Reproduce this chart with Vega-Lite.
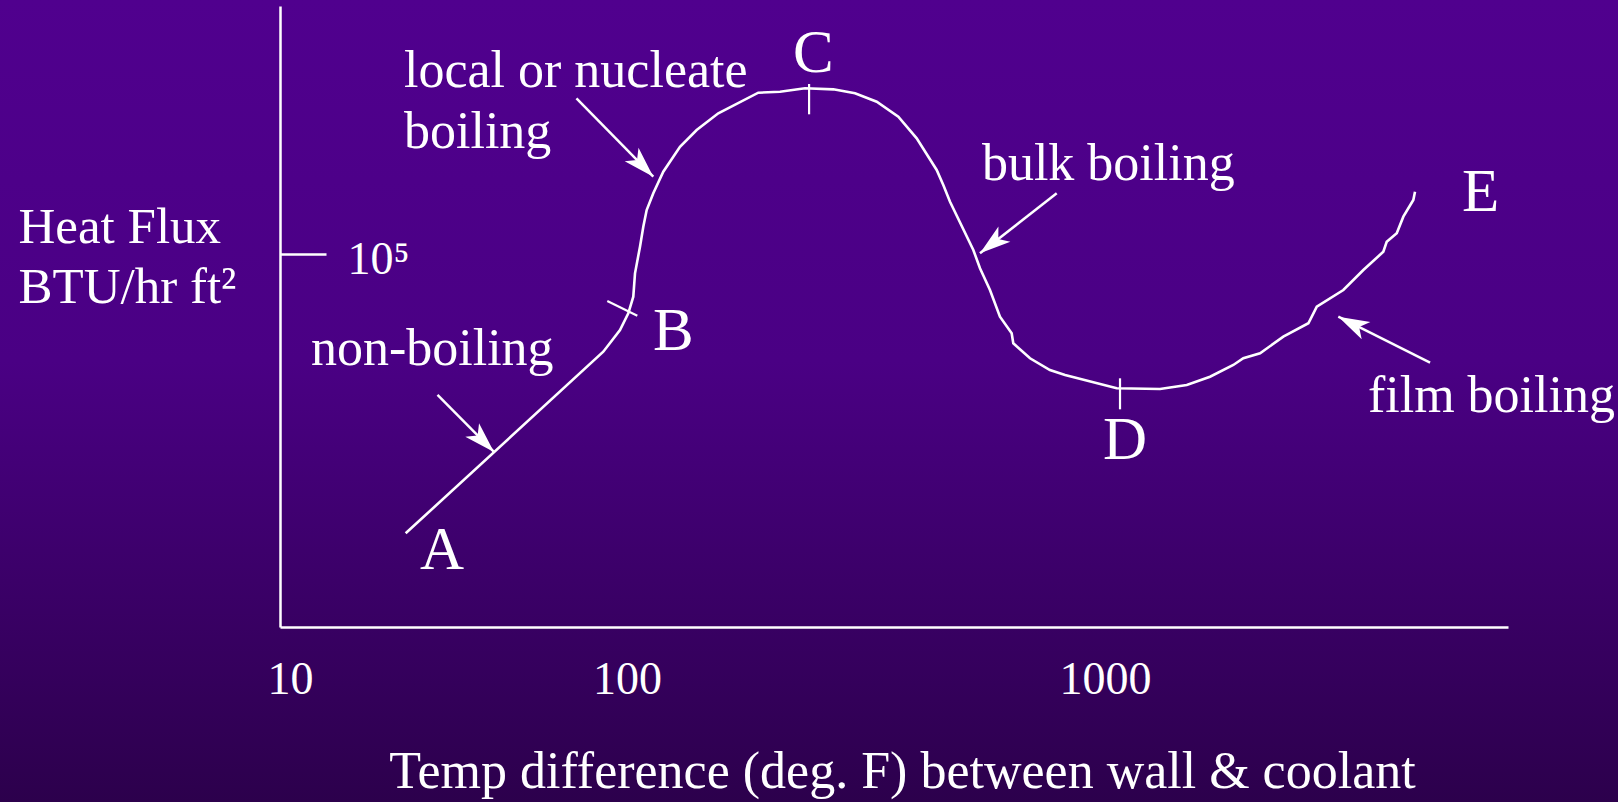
{
  "$schema": "https://vega.github.io/schema/vega-lite/v6.json",
  "width": 1618,
  "height": 802,
  "autosize": "none",
  "padding": 0,
  "background": "#3f0070",
  "config": {
    "view": {"stroke": null},
    "font": "Liberation Serif, Times New Roman, serif",
    "axis": {
      "domainColor": "white",
      "domainWidth": 2.5,
      "labelColor": "white",
      "titleColor": "white",
      "labelFont": "Liberation Serif, Times New Roman, serif",
      "titleFont": "Liberation Serif, Times New Roman, serif",
      "titleFontWeight": "normal",
      "grid": false
    }
  },
  "datasets": {
    "bg": [{"part": "background"}],
    "curve": [
      {"t": 22.04, "q": 7555},
      {"t": 85.04, "q": 40510},
      {"t": 95.33, "q": 49530},
      {"t": 100.63, "q": 57780},
      {"t": 103.08, "q": 67380},
      {"t": 103.93, "q": 83640},
      {"t": 106.46, "q": 106980},
      {"t": 108.17, "q": 128700},
      {"t": 109.94, "q": 150200},
      {"t": 113.5, "q": 175300},
      {"t": 119.1, "q": 214100},
      {"t": 129.08, "q": 269700},
      {"t": 139.88, "q": 314800},
      {"t": 155.24, "q": 367400},
      {"t": 188.23, "q": 444400},
      {"t": 208.97, "q": 448500},
      {"t": 235.72, "q": 462900},
      {"t": 270.23, "q": 458500},
      {"t": 299.92, "q": 441900},
      {"t": 333.0, "q": 408900},
      {"t": 369.5, "q": 355900},
      {"t": 403.7, "q": 291500},
      {"t": 444.5, "q": 217500},
      {"t": 458.9, "q": 189300},
      {"t": 474.0, "q": 162200},
      {"t": 530.3, "q": 103800},
      {"t": 547.6, "q": 87610},
      {"t": 574.6, "q": 71700},
      {"t": 602.9, "q": 56000},
      {"t": 637.9, "q": 48040},
      {"t": 642.9, "q": 43800},
      {"t": 696.8, "q": 38120},
      {"t": 767.1, "q": 34210},
      {"t": 824.9, "q": 32670},
      {"t": 1058.1, "q": 28880},
      {"t": 1303.4, "q": 28700},
      {"t": 1482.6, "q": 29780},
      {"t": 1658.5, "q": 32150},
      {"t": 1855.4, "q": 35830},
      {"t": 1947.0, "q": 38120},
      {"t": 2110.5, "q": 39920},
      {"t": 2360.6, "q": 46550},
      {"t": 2663.5, "q": 52700},
      {"t": 2773.6, "q": 61430},
      {"t": 3151.9, "q": 71700},
      {"t": 3470.6, "q": 86230},
      {"t": 3821.3, "q": 102100},
      {"t": 3884.3, "q": 112000},
      {"t": 4076.7, "q": 121100},
      {"t": 4208.3, "q": 141200},
      {"t": 4415.7, "q": 164800},
      {"t": 4451.4, "q": 177900}
    ],
    "marks": [
      {"point": "B", "t": 87.4, "q": 64740, "t2": 105.09, "q2": 56520},
      {"point": "C", "t": 240.4, "q": 481600, "t2": 240.4, "q2": 363900},
      {"point": "D", "t": 1075, "q": 31680, "t2": 1075, "q2": 23780}
    ],
    "arrows": [
      {"regime": "non-boiling", "t": 27.4, "q": 27150, "t2": 40.3, "q2": 16030},
      {"regime": "local or nucleate boiling", "t": 70.8, "q": 422000, "t2": 113.5, "q2": 204400},
      {"regime": "bulk boiling", "t": 792.5, "q": 175300, "t2": 547.6, "q2": 100650},
      {"regime": "film boiling", "t": 4786, "q": 36600, "t2": 3077, "q2": 56000}
    ],
    "phrases": [
      {"label": "local or nucleate", "t": 21.79, "q": 468500},
      {"label": "boiling", "t": 21.79, "q": 266500},
      {"label": "bulk boiling", "t": 552.7, "q": 198300},
      {"label": "non-boiling", "t": 11.54, "q": 35830},
      {"label": "film boiling", "t": 3549, "q": 23200}
    ],
    "letters": [
      {"label": "A", "t": 24.31, "q": 5430},
      {"label": "B", "t": 113.35, "q": 41170},
      {"label": "C", "t": 222.5, "q": 538200},
      {"label": "D", "t": 990.4, "q": 14980},
      {"label": "E", "t": 5583, "q": 149200}
    ]
  },
  "encoding": {
    "x": {
      "field": "t",
      "type": "quantitative",
      "scale": {"type": "log", "domain": [9.34, 100, 1000, 6967], "range": [280, 627, 1105, 1508], "nice": false},
      "axis": {
        "zindex": 2,
        "values": [10, 100, 1000],
        "format": "d",
        "ticks": false,
        "tickSize": 0,
        "labelFont": "Liberation Serif, Times New Roman, serif",
        "labelFontSize": 46,
        "labelBaseline": "alphabetic",
        "labelPadding": 66,
        "labelFlush": false,
        "labelOverlap": false,
        "offset": -175,
        "title": "Temp difference (deg. F) between wall & coolant",
        "titleFont": "Liberation Serif, Times New Roman, serif",
        "titleFontSize": 52,
        "titleFontWeight": "normal",
        "titleAnchor": null,
        "titleAlign": "center",
        "titleBaseline": "alphabetic",
        "titleX": 902,
        "titleY": 160
      }
    },
    "y": {
      "field": "q",
      "type": "quantitative",
      "scale": {"type": "log", "domain": [3177, 990800], "range": [627, 6], "nice": false},
      "axis": {
        "zindex": 2,
        "values": [100000],
        "labelExpr": "'10⁵'",
        "ticks": true,
        "tickSize": -46,
        "tickWidth": 2.5,
        "tickColor": "white",
        "labelFont": "Liberation Serif, Times New Roman, serif",
        "labelAlign": "left",
        "labelBaseline": "alphabetic",
        "labelPadding": -21,
        "labelOffset": 19,
        "labelFontSize": 46,
        "labelFlush": false,
        "labelOverlap": false,
        "offset": -280,
        "title": ["Heat Flux", "BTU/hr ft²"],
        "titleFont": "Liberation Serif, Times New Roman, serif",
        "titleFontSize": 51,
        "titleFontWeight": "normal",
        "titleAngle": 0,
        "titleAnchor": null,
        "titleAlign": "left",
        "titleBaseline": "alphabetic",
        "titleX": -262,
        "titleY": 242,
        "titleLineHeight": 60
      }
    }
  },
  "layer": [
    {
      "data": {"name": "bg"},
      "mark": {
        "type": "rect",
        "fill": {
          "gradient": "linear", "x1": 0, "y1": 0, "x2": 0, "y2": 1,
          "stops": [
            {"offset": 0, "color": "#50008e"},
            {"offset": 0.45, "color": "#4a0084"},
            {"offset": 1, "color": "#2c004c"}
          ]
        }
      },
      "encoding": {"x": null, "y": null}
    },
    {
      "data": {"name": "curve"},
      "mark": {"type": "line", "color": "white", "strokeWidth": 2.6}
    },
    {
      "data": {"name": "marks"},
      "mark": {"type": "rule", "color": "white", "strokeWidth": 2.2},
      "encoding": {
        "x2": {"field": "t2"},
        "y2": {"field": "q2"}
      }
    },
    {
      "data": {"name": "arrows"},
      "mark": {"type": "rule", "color": "white", "strokeWidth": 2.5},
      "encoding": {
        "x2": {"field": "t2"},
        "y2": {"field": "q2"}
      }
    },
    {
      "data": {"name": "arrows"},
      "mark": {
        "type": "point",
        "shape": "M0,0 L0.5,1.6 L0,1.2 L-0.5,1.6 Z",
        "filled": true,
        "fill": "white",
        "opacity": 1,
        "strokeWidth": 0,
        "size": 1500,
        "angle": {"expr": "atan2(scale('x', datum.t2) - scale('x', datum.t), scale('y', datum.q) - scale('y', datum.q2)) * 180 / PI"}
      },
      "encoding": {
        "x": {"field": "t2", "type": "quantitative"},
        "y": {"field": "q2", "type": "quantitative"}
      }
    },
    {
      "data": {"name": "phrases"},
      "mark": {"type": "text", "align": "left", "baseline": "alphabetic", "font": "Liberation Serif, Times New Roman, serif", "fontSize": 52, "color": "white"},
      "encoding": {"text": {"field": "label"}}
    },
    {
      "data": {"name": "letters"},
      "mark": {"type": "text", "align": "left", "baseline": "alphabetic", "font": "Liberation Serif, Times New Roman, serif", "fontSize": 61, "color": "white"},
      "encoding": {"text": {"field": "label"}}
    }
  ]
}
